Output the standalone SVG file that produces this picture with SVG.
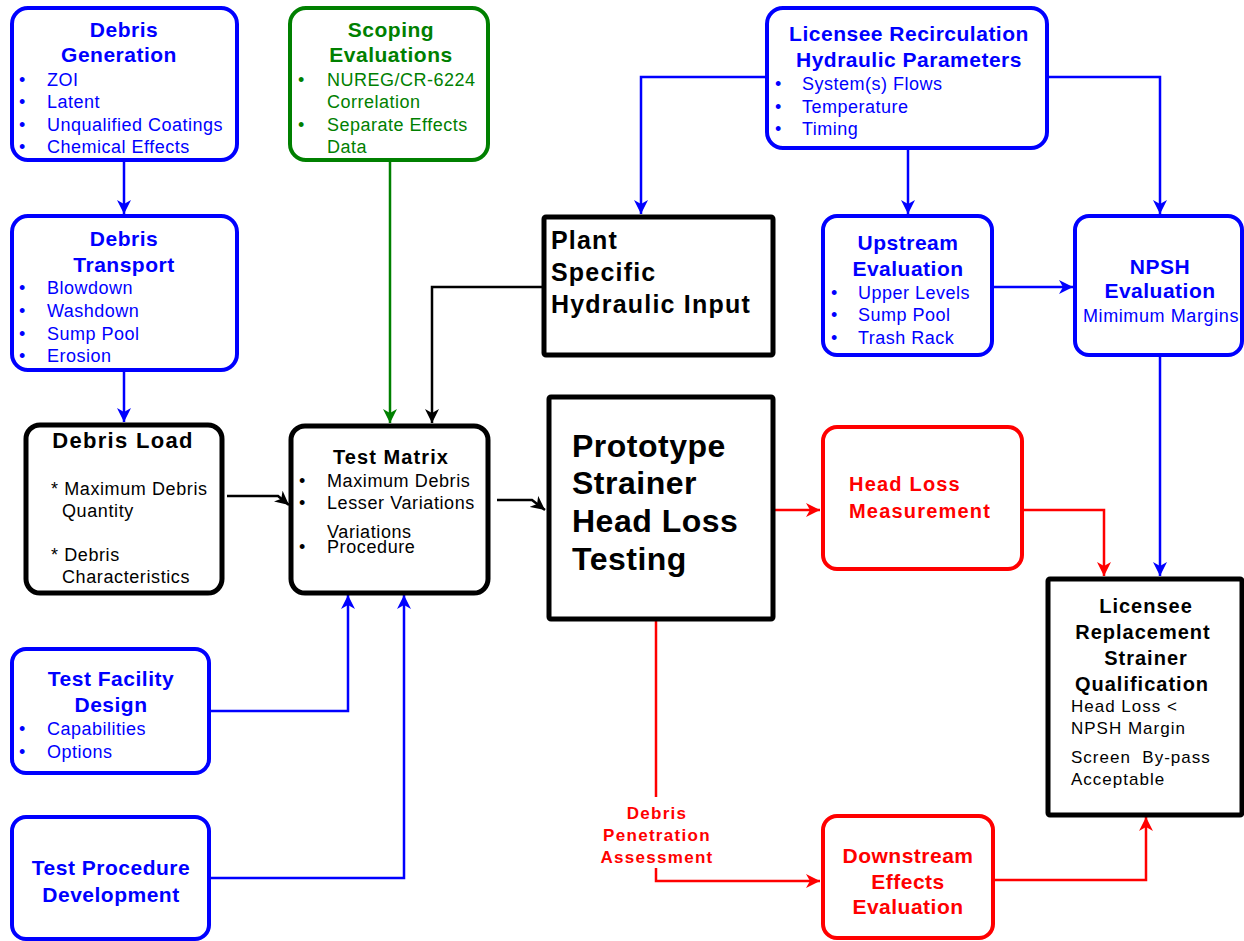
<svg xmlns="http://www.w3.org/2000/svg" width="1244" height="941" viewBox="0 0 1244 941">
<style>
text{font-family:"Liberation Sans",Arial,sans-serif}
.b{fill:#0000ff}.g{fill:#008000}.r{fill:#ff0000}.k{fill:#000}
.t{font-weight:bold;font-size:21px;letter-spacing:0.5px}
.i{font-size:18px;letter-spacing:0.5px}
.bx{fill:#fff;stroke-width:4}
.bb{stroke:#0000ff}.bg{stroke:#008000}.br{stroke:#ff0000}.bk{stroke:#000;stroke-width:5}
.c{fill:none;stroke-width:2.5}
.m{text-anchor:middle}
</style>
<defs>
<marker id="ab" markerUnits="userSpaceOnUse" markerWidth="16" markerHeight="14" refX="14" refY="7" orient="auto"><path d="M0,0L14,7L0,14L4,7z" fill="#0000ff"/></marker>
<marker id="ag" markerUnits="userSpaceOnUse" markerWidth="16" markerHeight="14" refX="14" refY="7" orient="auto"><path d="M0,0L14,7L0,14L4,7z" fill="#008000"/></marker>
<marker id="ar" markerUnits="userSpaceOnUse" markerWidth="16" markerHeight="14" refX="14" refY="7" orient="auto"><path d="M0,0L14,7L0,14L4,7z" fill="#ff0000"/></marker>
<marker id="ak" markerUnits="userSpaceOnUse" markerWidth="16" markerHeight="14" refX="14" refY="7" orient="auto"><path d="M0,0L14,7L0,14L4,7z" fill="#000"/></marker>
</defs>
<rect width="1244" height="941" fill="#fff"/>

<g id="connectors">
<path class="c" stroke="#0000ff" d="M124,161V214" marker-end="url(#ab)"/>
<path class="c" stroke="#0000ff" d="M124,371V422" marker-end="url(#ab)"/>
<path class="c" stroke="#008000" d="M390,161V423" marker-end="url(#ag)"/>
<path class="c" stroke="#000" d="M542,287H432V423" marker-end="url(#ak)"/>
<path class="c" stroke="#000" d="M227,496H278L289,505" marker-end="url(#ak)"/>
<path class="c" stroke="#000" d="M497,500H532L545,510" marker-end="url(#ak)"/>
<path class="c" stroke="#0000ff" d="M767,77H641V214" marker-end="url(#ab)"/>
<path class="c" stroke="#0000ff" d="M908,149V214" marker-end="url(#ab)"/>
<path class="c" stroke="#0000ff" d="M1047,77H1160V214" marker-end="url(#ab)"/>
<path class="c" stroke="#0000ff" d="M993,287H1073" marker-end="url(#ab)"/>
<path class="c" stroke="#0000ff" d="M1160,356V576" marker-end="url(#ab)"/>
<path class="c" stroke="#ff0000" d="M767,510H820" marker-end="url(#ar)"/>
<path class="c" stroke="#ff0000" d="M1023,510H1104V576" marker-end="url(#ar)"/>
<path class="c" stroke="#ff0000" d="M656,621V797"/>
<path class="c" stroke="#ff0000" d="M656,868V881H820" marker-end="url(#ar)"/>
<path class="c" stroke="#ff0000" d="M994,880H1146V817" marker-end="url(#ar)"/>
<path class="c" stroke="#0000ff" d="M210,711H348V595" marker-end="url(#ab)"/>
<path class="c" stroke="#0000ff" d="M210,878H404V595" marker-end="url(#ab)"/>
</g>

<g id="debris-generation">
<rect class="bx bb" x="12" y="8" width="225" height="152" rx="16"/>
<text class="b t m" x="124" y="37">Debris</text>
<text class="b t m" x="119" y="62">Generation</text>
<g class="b i">
<text x="19" y="86">•</text><text x="47" y="86">ZOI</text>
<text x="19" y="108">•</text><text x="47" y="108">Latent</text>
<text x="19" y="131">•</text><text x="47" y="131">Unqualified Coatings</text>
<text x="19" y="153">•</text><text x="47" y="153">Chemical Effects</text>
</g>
</g>

<g id="debris-transport">
<rect class="bx bb" x="12" y="216" width="225" height="154" rx="16"/>
<text class="b t m" x="124" y="246">Debris</text>
<text class="b t m" x="124" y="272">Transport</text>
<g class="b i">
<text x="19" y="294">•</text><text x="47" y="294">Blowdown</text>
<text x="19" y="317">•</text><text x="47" y="317">Washdown</text>
<text x="19" y="340">•</text><text x="47" y="340">Sump Pool</text>
<text x="19" y="362">•</text><text x="47" y="362">Erosion</text>
</g>
</g>

<g id="scoping-evaluations">
<rect class="bx bg" x="290" y="8" width="198" height="152" rx="16"/>
<text class="g t m" x="391" y="37">Scoping</text>
<text class="g t m" x="391" y="62">Evaluations</text>
<g class="g i">
<text x="298" y="86">•</text><text x="327" y="86">NUREG/CR-6224</text>
<text x="327" y="108">Correlation</text>
<text x="298" y="131">•</text><text x="327" y="131">Separate Effects</text>
<text x="327" y="153">Data</text>
</g>
</g>

<g id="licensee-recirculation">
<rect class="bx bb" x="767" y="8" width="280" height="140" rx="16"/>
<text class="b t m" x="909" y="41">Licensee Recirculation</text>
<text class="b t m" x="909" y="67">Hydraulic Parameters</text>
<g class="b i">
<text x="775" y="90">•</text><text x="802" y="90">System(s) Flows</text>
<text x="775" y="113">•</text><text x="802" y="113">Temperature</text>
<text x="775" y="135">•</text><text x="802" y="135">Timing</text>
</g>
</g>

<g id="plant-specific">
<rect class="bx bk" x="544" y="217" width="229" height="138" rx="2"/>
<g class="k" font-weight="bold" font-size="25" letter-spacing="1.2">
<text x="551" y="249">Plant</text>
<text x="551" y="281">Specific</text>
<text x="551" y="313">Hydraulic Input</text>
</g>
</g>

<g id="upstream-evaluation">
<rect class="bx bb" x="823" y="216" width="169" height="139" rx="14"/>
<text class="b t m" x="908" y="250">Upstream</text>
<text class="b t m" x="908" y="276">Evaluation</text>
<g class="b i">
<text x="831" y="299">•</text><text x="858" y="299">Upper Levels</text>
<text x="831" y="321">•</text><text x="858" y="321">Sump Pool</text>
<text x="831" y="344">•</text><text x="858" y="344">Trash Rack</text>
</g>
</g>

<g id="npsh-evaluation">
<rect class="bx bb" x="1075" y="216" width="167" height="139" rx="14"/>
<text class="b t m" x="1160" y="274">NPSH</text>
<text class="b t m" x="1160" y="298">Evaluation</text>
<text class="b m" x="1161" y="322" font-size="18" letter-spacing="0.6">Mimimum Margins</text>
</g>

<g id="debris-load">
<rect class="bx bk" x="26" y="425" width="196" height="168" rx="14"/>
<text class="k m" x="123" y="448" font-weight="bold" font-size="22" letter-spacing="1.3">Debris Load</text>
<g class="k" font-size="18" letter-spacing="0.6">
<text x="51" y="495">* Maximum Debris</text>
<text x="62" y="517">Quantity</text>
<text x="51" y="561">* Debris</text>
<text x="62" y="583">Characteristics</text>
</g>
</g>

<g id="test-matrix">
<rect class="bx bk" x="291" y="426" width="197" height="167" rx="14"/>
<text class="k m" x="391" y="464" font-weight="bold" font-size="20" letter-spacing="1.1">Test Matrix</text>
<g class="k" font-size="18" letter-spacing="0.6">
<text x="299" y="487">•</text><text x="327" y="487">Maximum Debris</text>
<text x="299" y="509">•</text><text x="327" y="509">Lesser Variations</text>
<text x="327" y="538">Variations</text>
<text x="299" y="553">•</text><text x="327" y="553">Procedure</text>
</g>
</g>

<g id="prototype-testing">
<rect class="bx bk" x="549" y="397" width="224" height="222" rx="2"/>
<g class="k" font-weight="bold" font-size="32" letter-spacing="0.5">
<text x="572" y="457">Prototype</text>
<text x="572" y="494">Strainer</text>
<text x="572" y="532">Head Loss</text>
<text x="572" y="570">Testing</text>
</g>
</g>

<g id="head-loss-measurement">
<rect class="bx br" x="823" y="427" width="199" height="142" rx="14"/>
<g class="r" font-weight="bold" font-size="20" letter-spacing="1.2">
<text x="849" y="491">Head Loss</text>
<text x="849" y="518">Measurement</text>
</g>
</g>

<g id="licensee-replacement">
<rect class="bx bk" x="1048" y="579" width="194" height="236" rx="2"/>
<g class="k m" font-weight="bold" font-size="20" letter-spacing="1">
<text x="1146" y="613">Licensee</text>
<text x="1143" y="639">Replacement</text>
<text x="1146" y="665">Strainer</text>
<text x="1142" y="691">Qualification</text>
</g>
<g class="k" font-size="17" letter-spacing="1">
<text x="1071" y="712">Head Loss &lt;</text>
<text x="1071" y="734">NPSH Margin</text>
<text x="1071" y="763" xml:space="preserve">Screen  By-pass</text>
<text x="1071" y="785">Acceptable</text>
</g>
</g>

<g id="debris-penetration">
<g class="r m" font-weight="bold" font-size="17" letter-spacing="1.3">
<text x="657" y="819">Debris</text>
<text x="657" y="841">Penetration</text>
<text x="657" y="863">Assessment</text>
</g>
</g>

<g id="downstream-effects">
<rect class="bx br" x="823" y="816" width="170" height="122" rx="14"/>
<g class="r t m">
<text x="908" y="863">Downstream</text>
<text x="908" y="889">Effects</text>
<text x="908" y="914">Evaluation</text>
</g>
</g>

<g id="test-facility-design">
<rect class="bx bb" x="12" y="649" width="197" height="124" rx="14"/>
<text class="b t m" x="111" y="686">Test Facility</text>
<text class="b t m" x="111" y="712">Design</text>
<g class="b i">
<text x="19" y="735">•</text><text x="47" y="735">Capabilities</text>
<text x="19" y="758">•</text><text x="47" y="758">Options</text>
</g>
</g>

<g id="test-procedure-development">
<rect class="bx bb" x="12" y="817" width="197" height="122" rx="14"/>
<text class="b t m" x="111" y="875">Test Procedure</text>
<text class="b t m" x="111" y="902">Development</text>
</g>
</svg>
